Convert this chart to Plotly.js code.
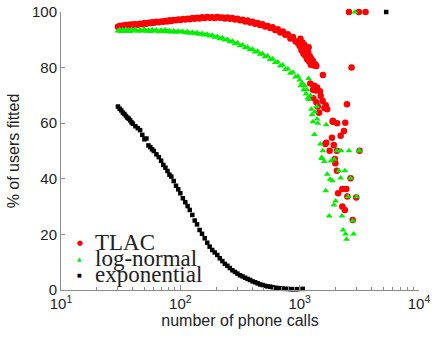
<!DOCTYPE html>
<html>
<head>
<meta charset="utf-8">
<script src="https://cdn.plot.ly/plotly-3.0.1.min.js"></script>
<style>html,body{margin:0;padding:0;background:#fff;}#chart{width:432px;height:337px;}</style>
</head>
<body>
<div id="chart"></div>
<script>
// Shared number-of-calls grid for the dense part of each series
const callsDense = [30,31,32,33,34,35,36,37,38,39,40,42,44,46,48,50,52,54,56,58,60,63,66,69,72,75,78,81,84,88,92,96,100,105,110,115,120,126,132,138,145,152,160,168,176,185,194,204,214,225,236,248,260,273,287,301,316,332,349,366,384,403,423,444,466,489,513,539,566,594,624,655,688,722,758,796,836,878,922,968];

const tlacDense = [94.7,95.0,94.8,95.1,95.0,95.3,95.1,95.4,95.2,95.5,95.4,95.6,95.4,95.8,95.6,96.0,95.8,96.1,96.0,96.3,96.1,96.5,96.3,96.6,96.5,96.8,96.6,97.0,96.8,97.1,97.0,97.3,97.1,97.5,97.3,97.6,97.4,97.8,97.6,97.9,97.7,98.1,97.8,98.2,97.9,98.1,97.8,98.2,97.9,98.0,97.7,98.0,97.6,97.8,97.3,97.6,97.0,97.2,96.6,96.9,96.2,96.5,95.8,96.0,95.3,95.6,94.8,95.0,94.2,94.5,93.5,93.8,92.6,93.0,91.8,92.0,90.5,91.0,89.5,88.8];

const tlacSparseX = [1000,1015,1035,1055,1075,1095,1115,1135,1155,1189,1180,1200,1220,1240,1253,1270,1290,1320,1350,1380,1227,1290,1330,1360,1400,1480,1566,1300,1380,1420,1453,1500,1560,1610,1653,1700,1890,1900,2060,2410,2350,2205,1864,1670,1640,1930,1783,2050,3176,1970,1990,2051,2673,2277,2460,2100,2510,2980,2277,2390,2780,2490,2723,2588,3133,3565];
const tlacSparseY = [87.8,90.4,86.2,89.0,85.0,88.2,84.3,86.6,83.0,87.3,85.4,82.2,84.0,81.0,83.1,81.5,82.4,80.8,81.2,80.6,74.3,72.0,73.5,71.8,72.8,71.5,77.3,69.0,67.5,66.0,63.8,69.8,68.0,65.5,66.5,65.0,60.5,60.9,60.0,60.2,57.2,55.5,54.8,53.0,52.5,52.2,50.1,50.1,50.1,47.1,45.6,42.9,40.2,36.3,36.3,34.8,33.6,33.3,30.0,28.8,25.2,66.8,80.0,100,100,100];

const lognormDense = [93.2,93.6,93.0,93.5,93.1,93.7,93.2,93.5,93.0,93.6,93.3,93.7,93.1,93.5,93.2,93.8,93.1,93.4,93.0,93.6,93.2,93.5,92.9,93.4,93.0,93.5,92.9,93.3,92.8,93.2,92.7,93.1,92.8,93.0,92.5,92.9,92.4,92.7,92.2,92.5,92.0,92.3,91.7,92.0,91.4,91.6,90.9,91.2,90.4,90.7,89.9,90.1,89.3,89.5,88.6,88.9,87.9,88.1,87.1,87.3,86.4,86.6,85.6,85.9,84.8,85.0,83.9,84.2,82.9,83.2,81.8,82.0,80.6,80.9,79.3,79.6,78.0,78.3,76.6,76.9];

const lognormSparseX = [1000,1020,1050,1080,1100,1130,1150,1170,1189,1200,1230,1253,1270,1291,1340,1330,1390,1400,1420,1490,1565,1530,1540,1610,1653,1670,1700,1770,1800,1830,1880,1940,1950,2000,2050,2130,2205,2220,2260,2310,2390,2420,2470,2540,2590,2673,2780,2830,2904,3000,3130,3176];
const lognormSparseY = [75.5,73.5,74.5,72.0,73.5,70.5,72.0,69.0,76.1,68.5,70.0,65.0,63.0,60.5,64.0,55.9,66.0,61.5,60.0,52.5,50.1,47.7,47.3,46.2,35.7,59.4,41.6,26.6,39.8,46.4,39.3,30.6,47.0,32.0,50.1,42.9,40.3,50.1,26.6,21.6,42.9,20.1,18.3,33.5,50.1,40.2,24.9,20.1,100,33.5,50.1,50.1];

const expDense = [66.0,65.2,64.6,63.8,63.3,62.6,62.0,61.6,61.0,60.3,59.8,58.9,58.2,57.5,55.8,54.2,54.5,52.0,51.4,50.6,50.0,48.8,47.8,46.5,45.0,44.0,42.8,41.5,40.8,39.2,37.5,36.2,34.8,33.0,31.6,30.2,28.8,27.0,25.0,23.6,21.6,20.2,18.6,17.0,15.6,14.4,13.5,12.6,11.4,10.4,9.4,8.7,7.9,7.1,6.5,5.9,5.3,4.9,4.4,4.0,3.6,3.1,2.8,2.4,2.0,1.8,1.5,1.3,1.2,1.0,0.8,0.7,0.6,0.5,0.4,0.4,0.3,0.3,0.3,0.3];
const expSparseX = [1060,5310];
const expSparseY = [0.4,100];

const seriesNames = ["TLAC","log-normal","exponential"];
const seriesColors = ["#ff0000","#00ee00","#000000"];

const xTickVals = [10,100,1000,10000];
const xTickText = ["10<sup>1</sup>","10<sup>2</sup>","10<sup>3</sup>","10<sup>4</sup>"];

const traces = [
  {x: callsDense.concat(tlacSparseX), y: tlacDense.concat(tlacSparseY), name: seriesNames[0],
   type:'scatter', mode:'markers', cliponaxis:false,
   marker:{symbol:'circle', size:6.5, color:seriesColors[0]}},
  {x: callsDense.concat(lognormSparseX), y: lognormDense.concat(lognormSparseY), name: seriesNames[1],
   type:'scatter', mode:'markers', cliponaxis:false,
   marker:{symbol:'triangle-up', size:6, color:seriesColors[1]}},
  {x: callsDense.concat(expSparseX), y: expDense.concat(expSparseY), name: seriesNames[2],
   type:'scatter', mode:'markers', cliponaxis:false,
   marker:{symbol:'square', size:4.5, color:seriesColors[2]}}
];

const symbols = ["●","▲","■"];
const symSizes = [7,6,5];
const legY = [0.168,0.114,0.054];
const textY = [0.17,0.112,0.054];
const annotations = [];
for (let i=0;i<3;i++){
  annotations.push({xref:'paper', yref:'paper', x:0.053, y:legY[i], xanchor:'center', yanchor:'middle',
    text:symbols[i], showarrow:false, font:{size:symSizes[i], color:seriesColors[i], family:'DejaVu Sans'}});
  annotations.push({xref:'paper', yref:'paper', x:0.088, y:textY[i], xanchor:'left', yanchor:'middle',
    text:seriesNames[i], showarrow:false, font:{size:23, color:'#222', family:'Liberation Serif, serif'}});
}

const layout = {
  width:432, height:337,
  margin:{l:61, r:13, t:12, b:47},
  paper_bgcolor:'#fff', plot_bgcolor:'#fff',
  showlegend:false,
  font:{family:'Liberation Sans, Arial, sans-serif', color:'#222'},
  xaxis:{type:'log', range:[1,4], tickmode:'array', tickvals:xTickVals, ticktext:xTickText,
    showline:true, linecolor:'#8c8c8c', linewidth:1, ticks:'inside', ticklen:5, tickcolor:'#8c8c8c',
    minor:{ticks:'inside', ticklen:3, tickcolor:'#8c8c8c', dtick:'D1', showgrid:false},
    showgrid:false, zeroline:false, tickfont:{size:15, color:'#222'},
    title:{text:'number of phone calls', font:{size:16, color:'#222'}, standoff:2}},
  yaxis:{range:[0,100], dtick:20, showline:true, linecolor:'#8c8c8c', linewidth:1,
    ticks:'inside', ticklen:4, tickcolor:'#8c8c8c', showgrid:false, zeroline:false,
    tickfont:{size:15, color:'#222'},
    title:{text:'% of users fitted', font:{size:16, color:'#222'}, standoff:8}},
  annotations: annotations
};

Plotly.newPlot('chart', traces, layout, {staticPlot:true, displayModeBar:false});
</script>
</body>
</html>
